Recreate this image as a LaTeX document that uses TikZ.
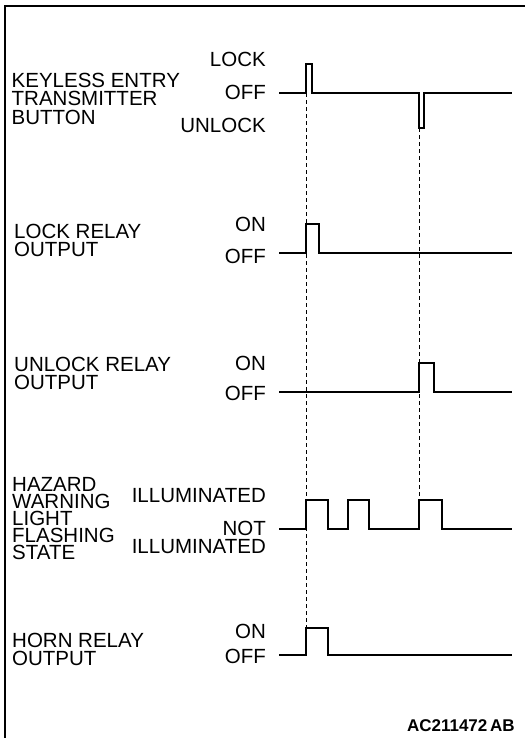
\documentclass[tikz,border=0pt]{standalone}
\usepackage{fontspec}
\setmainfont{Liberation Sans}
\begin{document}
\begin{tikzpicture}[x=1pt,y=-1pt,
  txt/.style={font=\fontsize{20.5}{21}\selectfont, inner sep=0pt, text height=14.5pt, text depth=0pt},
  lbl/.style={txt, anchor=base west},
  lvl/.style={txt, anchor=base east},
  sig/.style={line width=1.7pt, line join=miter},
  guide/.style={line width=0.9pt, dash pattern=on 4pt off 3pt},
  frame/.style={line width=2pt}]
\useasboundingbox (0,0) rectangle (525,738);
% frame
\draw[frame] (5,738) -- (5,6.5) -- (525,6.5);

% guides
\draw[guide] (306,93.3) -- (306,628.3);
\draw[guide] (419.3,128.3) -- (419.3,500);

% row 1: keyless entry transmitter button
\node[lbl] (k1) at (11.5,87.5) {KEYLESS ENTRY};
\node[lbl] (k2) at (11.5,106) {TRANSMITTER};
\node[lbl] (k3) at (11.5,124.3) {BUTTON};
\node[lvl] (klock) at (266,66.5) {LOCK};
\node[lvl] (koff) at (266,99.5) {OFF};
\node[lvl] (kunl) at (266,132.5) {UNLOCK};
\draw[sig] (279,93.3) -- (306,93.3) -- (306,64.3) -- (311.7,64.3) -- (311.7,93.3)
  -- (419.3,93.3) -- (419.3,128.3) -- (424.3,128.3) -- (424.3,93.3) -- (512,93.3);

% row 2: lock relay output
\node[lbl] (l1) at (14,238.5) {LOCK RELAY};
\node[lbl] (l2) at (14,256) {OUTPUT};
\node[lvl] (lon) at (266,231.5) {ON};
\node[lvl] (loff) at (266,263.5) {OFF};
\draw[sig] (279,253.3) -- (306,253.3) -- (306,224) -- (319.3,224) -- (319.3,253.3) -- (512,253.3);

% row 3: unlock relay output
\node[lbl] (u1) at (14,371) {UNLOCK RELAY};
\node[lbl] (u2) at (14,389) {OUTPUT};
\node[lvl] (uon) at (266,370) {ON};
\node[lvl] (uoff) at (266,400) {OFF};
\draw[sig] (279,391.7) -- (419.3,391.7) -- (419.3,362.7) -- (434,362.7) -- (434,391.7) -- (512,391.7);

% row 4: hazard warning light flashing state
\node[lbl] (h1) at (12,491.5) {HAZARD};
\node[lbl] (h2) at (12,508.5) {WARNING};
\node[lbl] (h3) at (12,525.5) {LIGHT};
\node[lbl] (h4) at (12,542.5) {FLASHING};
\node[lbl] (h5) at (12,559.5) {STATE};
\node[lvl] (hill) at (266,502) {ILLUMINATED};
\node[lvl] (hnot) at (266,535) {NOT};
\node[lvl] (hnill) at (266,553.5) {ILLUMINATED};
\draw[sig] (279,529.3) -- (306,529.3) -- (306,500) -- (328.3,500) -- (328.3,529.3)
  -- (347.7,529.3) -- (347.7,500) -- (369,500) -- (369,529.3)
  -- (419.3,529.3) -- (419.3,500) -- (442.3,500) -- (442.3,529.3) -- (512,529.3);

% row 5: horn relay output
\node[lbl] (r1) at (12,647.5) {HORN RELAY};
\node[lbl] (r2) at (12,665.5) {OUTPUT};
\node[lvl] (ron) at (266,638) {ON};
\node[lvl] (roff) at (266,663.5) {OFF};
\draw[sig] (279,655) -- (306,655) -- (306,628.3) -- (328.3,628.3) -- (328.3,655) -- (512,655);

% figure id
\node[font=\fontsize{17}{18}\selectfont\bfseries, inner sep=0pt, anchor=base east] (id) at (515,731.5) {AC211472\,AB};
\end{tikzpicture}
\end{document}
